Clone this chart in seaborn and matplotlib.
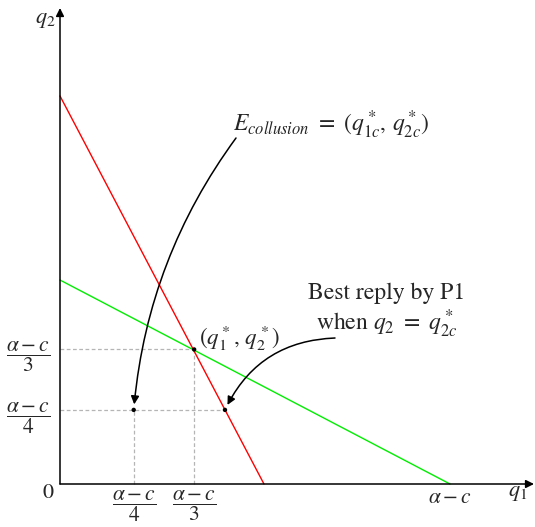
import matplotlib
matplotlib.use("Agg")
import matplotlib.pyplot as plt
import seaborn as sns

# values in units of (alpha - c)
red_q1 = [0.0, 0.523]      # best reply of P1
red_q2 = [0.995, 0.0]
green_q1 = [0.0, 1.0]      # best reply of P2
green_q2 = [0.523, 0.0]

nash = (0.344, 0.345)
collusion = (0.189, 0.190)
best_reply = (0.423, 0.190)

xtick_vals = [0.189, 0.344, 1.0]
xtick_labels = [r"$\dfrac{\alpha - c}{4}$", r"$\dfrac{\alpha - c}{3}$", r"$\alpha - c$"]
ytick_vals = [0.190, 0.345]
ytick_labels = [r"$\dfrac{\alpha - c}{4}$", r"$\dfrac{\alpha - c}{3}$"]

sns.set_theme(style="white")
plt.rcParams["font.family"] = ["STIXGeneral", "DejaVu Serif"]
plt.rcParams["mathtext.fontset"] = "stix"

fig = plt.figure(figsize=(5.35, 5.27), dpi=100)
ax = fig.add_axes([0, 0, 1, 1])
ax.set_xlim(-60 / 390, 475 / 390)
ax.set_ylim(-43 / 390, 484 / 390)

sns.lineplot(x=red_q1, y=red_q2, color="#ff0000", lw=1.0, ax=ax)
sns.lineplot(x=green_q1, y=green_q2, color="#00ee00", lw=1.0, ax=ax)

# guide lines
dash = dict(color="#b5b5b5", lw=0.9, ls=(0, (3, 2)), zorder=1)
ax.plot([0, nash[0]], [nash[1], nash[1]], **dash)
ax.plot([nash[0], nash[0]], [0, nash[1]], **dash)
ax.plot([0, best_reply[0]], [best_reply[1], best_reply[1]], **dash)
ax.plot([collusion[0], collusion[0]], [0, collusion[1]], **dash)

pts_x = [nash[0], collusion[0], best_reply[0]]
pts_y = [nash[1], collusion[1], best_reply[1]]
sns.scatterplot(x=pts_x, y=pts_y, color="black", s=10, zorder=5, ax=ax, edgecolor="none")

# axes with arrows
for s in ax.spines.values():
    s.set_visible(False)
ax.spines["bottom"].set_position(("data", 0))
ax.spines["left"].set_position(("data", 0))
arr = dict(arrowstyle="-|>", color="black", lw=1.1, mutation_scale=12, shrinkA=0, shrinkB=0)
ax.annotate("", xy=(474 / 390, 0), xytext=(0, 0), arrowprops=arr)
ax.annotate("", xy=(0, 476 / 390), xytext=(0, 0), arrowprops=arr)

ax.set_xticks(xtick_vals)
ax.set_xticklabels(xtick_labels, fontsize=15.5)
ax.set_yticks(ytick_vals)
ax.set_yticklabels(ytick_labels, fontsize=15.5)
ax.tick_params(length=0)
ax.tick_params(axis="x", pad=3)
ax.tick_params(axis="y", pad=7)
ax.grid(False)

ax.text(-12 / 390, -9 / 390, "0", fontsize=16, ha="center", va="center")
ax.text(458 / 390, -9 / 390, r"$q_1$", fontsize=16, ha="center", va="center")
ax.text(-15 / 390, 464 / 390, r"$q_2$", fontsize=16, ha="center", va="center")

ax.text(nash[0] + 5 / 390, nash[1] + 11 / 390, r"$(q^*_1,\, q^*_2)$", fontsize=16.5, ha="left", va="center")
ax.text(173 / 390, 359 / 390, r"$E_{collusion}\ =\ (q^*_{1c},\, q^*_{2c})$", fontsize=17,
        ha="left", va="center")
ax.text(327 / 390, 173 / 390, "Best reply by P1\nwhen $q_2\\ =\\ q^*_{2c}$", fontsize=17,
        ha="center", va="center", linespacing=1.15)

# curved pointers
ax.annotate("", xy=collusion, xytext=(176 / 390, 346 / 390),
            arrowprops=dict(arrowstyle="-|>", color="black", lw=1.1, mutation_scale=12,
                            shrinkA=0, shrinkB=4, connectionstyle="arc3,rad=0.14"))
ax.annotate("", xy=best_reply, xytext=(275 / 390, 146 / 390),
            arrowprops=dict(arrowstyle="-|>", color="black", lw=1.1, mutation_scale=12,
                            shrinkA=0, shrinkB=4, connectionstyle="arc3,rad=0.3"))

fig.savefig("out.png", dpi=100)
